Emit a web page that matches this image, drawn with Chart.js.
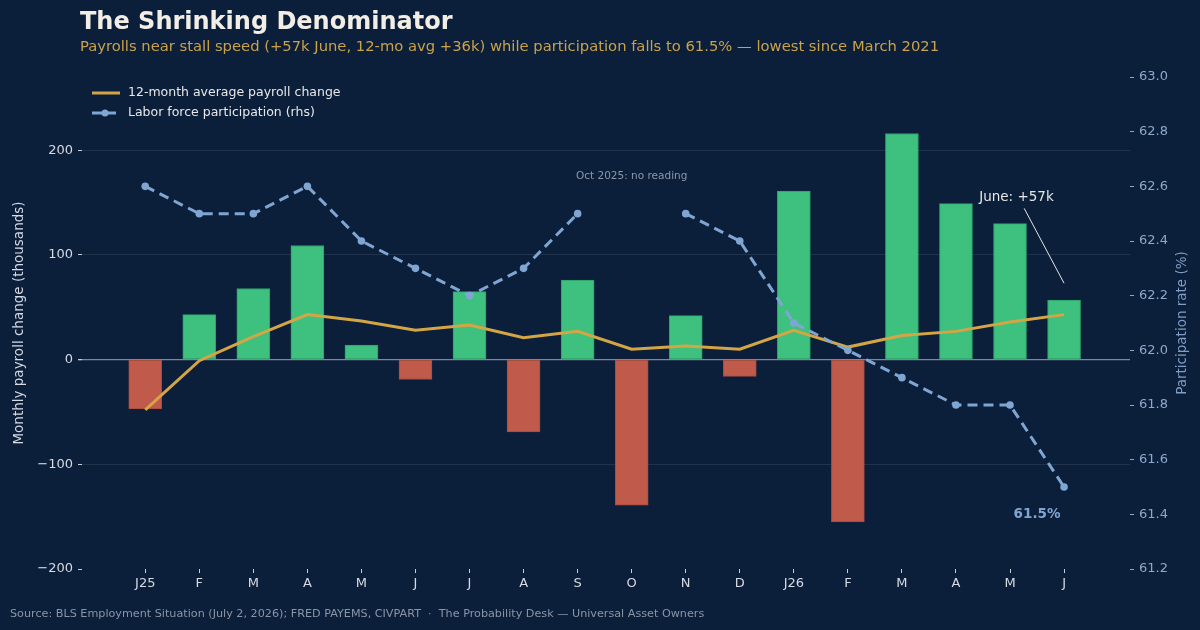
<!DOCTYPE html>
<html>
<head>
<meta charset="utf-8">
<script src="https://cdn.jsdelivr.net/npm/chart.js@4.4.1/dist/chart.umd.min.js"></script>
<style>
  html, body { margin: 0; padding: 0; background: #0b1e3a; }
  #wrap { position: relative; width: 1200px; height: 630px; overflow: hidden; font-family: "DejaVu Sans", sans-serif; }
  #title { position: absolute; left: 80px; top: 9px; font-size: 24px; line-height: 1; font-weight: bold; color: #f2eee6; white-space: nowrap; }
  #subtitle { position: absolute; left: 80px; top: 39px; font-size: 14.75px; line-height: 1; color: #c9a24a; white-space: nowrap; }
  #source { position: absolute; left: 10px; top: 608px; font-size: 11.2px; line-height: 1; color: #8b95a6; white-space: nowrap; }
  canvas { position: absolute; left: 0; top: 0; }
</style>
</head>
<body>
<div id="wrap">
  <canvas id="chart" width="1200" height="630"></canvas>
  <div id="title">The Shrinking Denominator</div>
  <div id="subtitle">Payrolls near stall speed (+57k June, 12-mo avg +36k) while participation falls to 61.5% — lowest since March 2021</div>
  <div id="source">Source: BLS Employment Situation (July 2, 2026); FRED PAYEMS, CIVPART &nbsp;·&nbsp; The Probability Desk — Universal Asset Owners</div>
</div>
<script>
// Data: Jan 2025 .. Jun 2026
const months = ['J25', 'F', 'M', 'A', 'M', 'J', 'J', 'A', 'S', 'O', 'N', 'D', 'J26', 'F', 'M', 'A', 'M', 'J'];
const payrolls = [-47, 43, 68, 109, 14, -19, 65, -69, 76, -139, 42, -16, 161, -155, 216, 149, 130, 57];
const avg12 = [-48, -1, 22, 43, 37, 28, 33, 21, 27, 10, 13, 10, 28, 12, 23, 27, 36, 43];
const participation = [62.6, 62.5, 62.5, 62.6, 62.4, 62.3, 62.2, 62.3, 62.5, null, 62.5, 62.4, 62.1, 62.0, 61.9, 61.8, 61.8, 61.5];
const leftTicks = [-200, -100, 0, 100, 200];
const rightTicks = [61.2, 61.4, 61.6, 61.8, 62.0, 62.2, 62.4, 62.6, 62.8, 63.0];

const GREEN = '#3ec07f', GREEN_EDGE = '#2f9f69';
const RED = '#c05a4b', RED_EDGE = '#a94b3e';
const GOLD = '#d4a545';
const BLUE = '#7fa6d2';
const FONT = '"DejaVu Sans", sans-serif';

const xy = arr => arr.map((v, i) => ({ x: i, y: v }));

// legend + annotations drawn on top of the plot
const overlay = {
  id: 'overlay',
  afterDatasetsDraw(chart) {
    const { ctx } = chart;
    const { x, y, y2 } = chart.scales;
    ctx.save();

    // legend
    ctx.font = '12.5px ' + FONT;
    ctx.textBaseline = 'middle';
    ctx.fillStyle = '#e8e8e8';
    ctx.strokeStyle = GOLD;
    ctx.lineWidth = 3;
    ctx.beginPath(); ctx.moveTo(92, 93); ctx.lineTo(120, 93); ctx.stroke();
    ctx.fillText(chart.data.datasets[1].label, 128, 93);
    ctx.strokeStyle = BLUE;
    ctx.lineWidth = 3;
    ctx.setLineDash([10, 4]);
    ctx.beginPath(); ctx.moveTo(92, 113); ctx.lineTo(120, 113); ctx.stroke();
    ctx.setLineDash([]);
    ctx.fillStyle = BLUE;
    ctx.beginPath(); ctx.arc(105, 113, 3.5, 0, Math.PI * 2); ctx.fill();
    ctx.fillStyle = '#e8e8e8';
    ctx.fillText(chart.data.datasets[0].label, 128, 113);

    // Oct gap note
    ctx.font = '10.5px ' + FONT;
    ctx.fillStyle = '#8d97a8';
    ctx.textAlign = 'center';
    ctx.fillText('Oct 2025: no reading', x.getPixelForValue(9), y.getPixelForValue(175.5));

    // June callout
    const tx = x.getPixelForValue(15.43), ty = y.getPixelForValue(155);
    ctx.font = '13.5px ' + FONT;
    ctx.fillStyle = '#e6e6e6';
    ctx.textAlign = 'left';
    ctx.fillText('June: +57k', tx, ty);
    ctx.strokeStyle = '#e6e6e6';
    ctx.lineWidth = 1;
    ctx.beginPath();
    ctx.moveTo(tx + 45, ty + 11);
    ctx.lineTo(x.getPixelForValue(17), y.getPixelForValue(payrolls[17] + 16));
    ctx.stroke();

    // latest participation label
    ctx.font = 'bold 13.5px ' + FONT;
    ctx.fillStyle = BLUE;
    ctx.textAlign = 'center';
    ctx.fillText(participation[17].toFixed(1) + '%', x.getPixelForValue(16.5), y2.getPixelForValue(61.4));

    // right axis title, reading bottom-to-top like the left one
    ctx.translate(1182, (chart.chartArea.top + chart.chartArea.bottom) / 2);
    ctx.rotate(-Math.PI / 2);
    ctx.font = '13.5px ' + FONT;
    ctx.fillStyle = '#7f9fc6';
    ctx.fillText('Participation rate (%)', 0, 0);

    ctx.restore();
  }
};

new Chart(document.getElementById('chart'), {
  data: {
    datasets: [
      {
        type: 'line',
        label: 'Labor force participation (rhs)',
        data: xy(participation),
        yAxisID: 'y2',
        borderColor: BLUE,
        backgroundColor: BLUE,
        borderWidth: 3,
        borderDash: [10, 6],
        pointRadius: 3.8,
        pointBackgroundColor: BLUE,
        pointBorderWidth: 0,
        spanGaps: false,
        tension: 0,
        order: 0
      },
      {
        type: 'line',
        label: '12-month average payroll change',
        data: xy(avg12),
        yAxisID: 'y',
        borderColor: GOLD,
        borderWidth: 3,
        pointRadius: 0,
        tension: 0,
        order: 1
      },
      {
        type: 'bar',
        label: 'Monthly payroll change',
        data: xy(payrolls),
        yAxisID: 'y',
        backgroundColor: payrolls.map(v => v >= 0 ? GREEN : RED),
        borderColor: payrolls.map(v => v >= 0 ? GREEN_EDGE : RED_EDGE),
        borderWidth: 1,
        borderSkipped: false,
        barThickness: 33,
        order: 2
      }
    ]
  },
  options: {
    responsive: false,
    animation: false,
    devicePixelRatio: 1,
    layout: { padding: { top: 77, left: 0, right: 0, bottom: 0 } },
    plugins: { legend: { display: false }, tooltip: { enabled: false } },
    scales: {
      x: {
        type: 'linear',
        min: -1.17,
        max: 18.22,
        offset: false,
        afterBuildTicks: s => { s.ticks = months.map((_, i) => ({ value: i })); },
        afterFit: s => { s.height = 61; },
        border: { display: false },
        grid: { offset: false, drawOnChartArea: false, drawTicks: true, tickLength: 4, tickColor: '#c8ccd4' },
        ticks: {
          color: '#d6dbe4',
          font: { family: FONT, size: 13 },
          padding: 3,
          maxRotation: 0,
          autoSkip: false,
          callback: v => months[v] ?? ''
        }
      },
      y: {
        position: 'left',
        min: -200,
        max: 270,
        afterBuildTicks: s => { s.ticks = leftTicks.map(v => ({ value: v })); },
        afterFit: s => { s.width = 82; },
        border: { display: false },
        grid: {
          color: c => {
            if (!c.tick) return 'rgba(255,255,255,0.09)';
            if (c.tick.value === 0) return '#7f8898';
            if (c.tick.value === -200) return 'rgba(0,0,0,0)';
            return 'rgba(255,255,255,0.09)';
          },
          lineWidth: c => c.tick && c.tick.value === 0 ? 1.3 : 1,
          tickLength: 4,
          tickColor: '#c8ccd4'
        },
        ticks: {
          color: '#d6dbe4',
          font: { family: FONT, size: 13 },
          padding: 5,
          callback: v => v < 0 ? '\u2212' + Math.abs(v) : String(v)
        },
        title: {
          display: true,
          text: 'Monthly payroll change (thousands)',
          color: '#d6dbe4',
          font: { family: FONT, size: 13.5 },
          padding: { top: 11, bottom: 0 }
        }
      },
      y2: {
        position: 'right',
        min: 61.2,
        max: 63.0,
        afterBuildTicks: s => { s.ticks = rightTicks.map(v => ({ value: v })); },
        afterFit: s => { s.width = 70; },
        border: { display: false },
        grid: { drawOnChartArea: false, tickLength: 4, tickColor: '#8aa6c8' },
        ticks: {
          color: '#8fa9ca',
          font: { family: FONT, size: 13 },
          padding: 5,
          callback: v => Number(v).toFixed(1)
        }
      }
    }
  },
  plugins: [overlay]
});
</script>
</body>
</html>
